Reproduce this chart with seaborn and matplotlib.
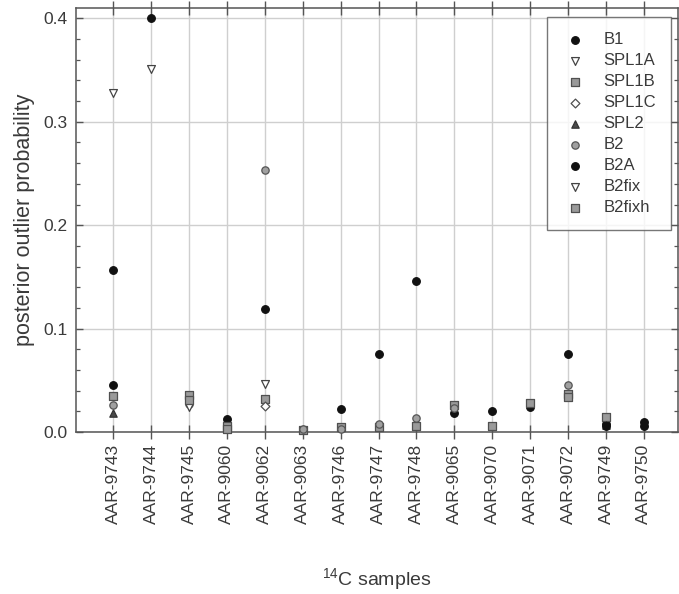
import numpy as np
import pandas as pd
import matplotlib
matplotlib.use("Agg")
import matplotlib.pyplot as plt
from matplotlib.ticker import MultipleLocator, FormatStrFormatter
import seaborn as sns

nan = np.nan

samples = ["AAR-9743", "AAR-9744", "AAR-9745", "AAR-9060", "AAR-9062",
           "AAR-9063", "AAR-9746", "AAR-9747", "AAR-9748", "AAR-9065",
           "AAR-9070", "AAR-9071", "AAR-9072", "AAR-9749", "AAR-9750"]

B1     = [0.157, 0.400, nan,   0.013, 0.119, 0.002, 0.022, 0.075, 0.146, 0.018, 0.020, 0.024, 0.075, 0.008,  0.0095]
SPL1A  = [0.328, 0.351, nan,   nan,   0.046, nan,   nan,   nan,   nan,   nan,   nan,   nan,   nan,   nan,    nan]
SPL1B  = [0.035, nan,   0.036, 0.006, 0.032, 0.002, 0.005, 0.005, 0.0055, 0.026, 0.006, nan,  0.037, 0.0145, nan]
SPL1C  = [nan,   nan,   nan,   nan,   0.025, nan,   nan,   nan,   nan,   nan,   nan,   nan,   nan,   nan,    nan]
SPL2   = [0.018, nan,   nan,   nan,   nan,   nan,   nan,   nan,   nan,   nan,   nan,   nan,   nan,   0.007,  nan]
B2     = [0.026, nan,   0.027, nan,   0.253, 0.003, 0.003, 0.008, 0.014, 0.023, nan,   nan,   0.045, nan,    nan]
B2A    = [0.045, nan,   nan,   nan,   nan,   nan,   nan,   nan,   nan,   nan,   nan,   nan,   nan,   0.006,  0.006]
B2fix  = [nan,   nan,   0.024, nan,   nan,   nan,   nan,   nan,   nan,   nan,   nan,   nan,   nan,   nan,    nan]
B2fixh = [nan,   nan,   0.031, 0.003, nan,   nan,   nan,   nan,   nan,   nan,   nan,   0.028, 0.034, nan,    nan]

series = {"B1": B1, "SPL1A": SPL1A, "SPL1B": SPL1B, "SPL1C": SPL1C, "SPL2": SPL2,
          "B2": B2, "B2A": B2A, "B2fix": B2fix, "B2fixh": B2fixh}

# marker, face colour, edge colour, size
styles = {
    "B1":     ("o", "#111111", "#111111", 30),
    "SPL1A":  ("v", "#ffffff", "#444444", 32),
    "SPL1B":  ("s", "#9a9a9a", "#505050", 26),
    "SPL1C":  ("D", "#ffffff", "#505050", 20),
    "SPL2":   ("^", "#4a4a4a", "#333333", 28),
    "B2":     ("o", "#a0a0a0", "#555555", 28),
    "B2A":    ("o", "#111111", "#111111", 30),
    "B2fix":  ("v", "#ffffff", "#444444", 32),
    "B2fixh": ("s", "#9a9a9a", "#505050", 26),
}

rows = []
for name, vals in series.items():
    for i, v in enumerate(vals):
        if not np.isnan(v):
            rows.append({"model": name, "pos": i, "prob": v})
df = pd.DataFrame(rows)

sns.set_style("white")
plt.rcParams["font.family"] = ["Liberation Sans", "DejaVu Sans"]
plt.rcParams["mathtext.fontset"] = "custom"
plt.rcParams["mathtext.rm"] = "Liberation Sans"
plt.rcParams["mathtext.it"] = "Liberation Sans"

fig = plt.figure(figsize=(6.79, 5.94), dpi=100)
ax = fig.add_axes([0.112, 0.2727, 0.8866, 0.7138])

text_c = "#3a3a3a"
for name in series:
    m, fc, ec, s = styles[name]
    sub = df[df["model"] == name]
    sns.scatterplot(data=sub, x="pos", y="prob", ax=ax, marker=m, s=s,
                    color=fc, edgecolor=ec, linewidth=0.9, label=name,
                    zorder=3, clip_on=False)

ax.set_xlim(-0.98, 14.9)
ax.set_ylim(0, 0.41)
ax.set_xticks(range(len(samples)))
ax.set_xticklabels(samples, rotation=90)
ax.yaxis.set_major_locator(MultipleLocator(0.1))
ax.yaxis.set_minor_locator(MultipleLocator(0.02))
ax.yaxis.set_major_formatter(FormatStrFormatter("%.1f"))

ax.grid(True, which="major", axis="both", color="#cfcfcf", linewidth=1.0, zorder=0)
ax.set_axisbelow(True)

for sp in ax.spines.values():
    sp.set_color("#555555")
    sp.set_linewidth(1.1)

ax.tick_params(axis="x", which="major", bottom=True, top=True, width=1.0,
               color="#555555", labelsize=12.5, labelcolor=text_c, pad=4)
ax.tick_params(axis="x", which="major", top=True, direction="in", length=5)
ax.tick_params(axis="x", which="major", bottom=True, direction="inout", length=9.5)
ax.tick_params(axis="y", which="major", left=True, right=True, direction="in",
               length=5, width=1.0, color="#555555", labelsize=12.5,
               labelcolor=text_c, pad=6)
ax.tick_params(axis="y", which="minor", left=True, right=True, direction="in",
               length=3, width=0.9, color="#555555")

ax.set_ylabel("posterior outlier probability", fontsize=15.5, color=text_c, labelpad=6)
ax.set_xlabel(r"$^{14}$C samples", fontsize=14, color=text_c, labelpad=30)

leg = ax.legend(loc="upper right", bbox_to_anchor=(0.988, 0.979), frameon=True,
                fancybox=False, edgecolor="#555555", fontsize=12,
                borderpad=0.9, labelspacing=0.36, handlelength=1.6,
                handletextpad=0.9, borderaxespad=0)
leg.get_frame().set_linewidth(1.0)
for t in leg.get_texts():
    t.set_color(text_c)

fig.savefig("out.png", dpi=100, facecolor="white")
